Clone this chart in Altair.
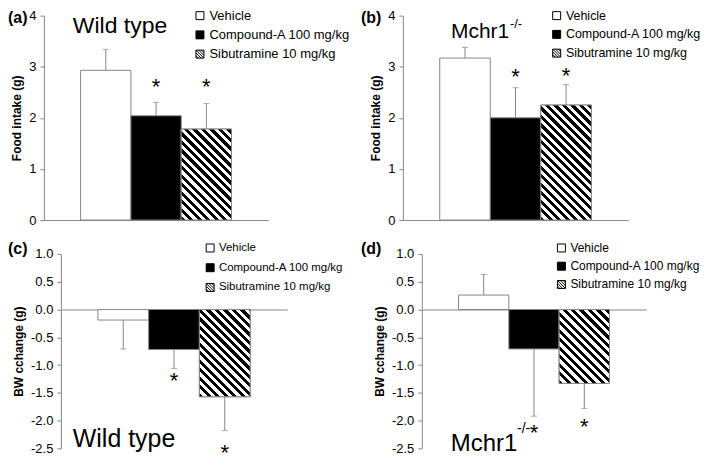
import altair as alt
import pandas as pd

# ---------------- data ----------------
groups = ["Vehicle", "Compound-A 100 mg/kg", "Sibutramine 10 mg/kg"]

food_wt = [2.93, 2.04, 1.78]
food_wt_err = [3.34, 2.30, 2.28]
food_wt_star = [None, 2.70, 2.70]

food_ko = [3.17, 2.00, 2.25]
food_ko_err = [3.38, 2.59, 2.65]
food_ko_star = [None, 2.89, 2.92]

bw_wt = [-0.19, -0.72, -1.57]
bw_wt_err = [-0.71, -1.06, -2.18]
bw_wt_star = [None, -1.20, -2.49]

bw_ko = [0.26, -0.71, -1.33]
bw_ko_err = [0.63, -1.92, -1.78]
bw_ko_star = [None, -2.13, -2.02]

food_ticks = [0, 1, 2, 3, 4]
bw_ticks = [1.0, 0.5, 0.0, -0.5, -1.0, -1.5, -2.0, -2.5]

# ---------------- styling ----------------
FONT = "Liberation Sans"
GRAY = "#868686"
PAD_OUTER = 0.73
H1, H2 = 205, 195
VIEW_W = 244

# legend swatches as custom symbol paths (unit box [-1, 1])
SQUARE = "M-1,-1L1,-1L1,1L-1,1Z"
SHAPES = [
    SQUARE,
    SQUARE,
    SQUARE + "M-1,-1L1,1M-0.3,-1L1,0.3M-1,-0.3L0.3,1M0.4,-1L1,-0.4M-1,0.4L-0.4,1",
]
SWATCH_FILL = ["white", "black", "white"]
SWATCH_STROKE = ["black", "black", "black"]
BAR_FILL = ["white", "black", "white"]


def hatch_fill(w, h, period=8.5):
    total = w + h
    stops = []
    k = 0
    while k * period < total:
        a = round(k * period / total, 5)
        b = round(min((k * period + period / 2) / total, 1), 5)
        c = round(min((k + 1) * period / total, 1), 5)
        stops += [{"offset": a, "color": "black"}, {"offset": b, "color": "black"}]
        if b < 1:
            stops += [{"offset": b, "color": "white"}, {"offset": c, "color": "white"}]
        k += 1
    kk = total / (w * w + h * h)
    return {"gradient": "linear", "x1": 0, "y1": 1,
            "x2": round(w * kk, 5), "y2": round(1 - h * kk, 5), "stops": stops}


def panel(vals, errs, stars, ydom, yticks, yfmt, ytitle, x0, x1, H,
          label, label_x, label_y, legx, legy, legfs,
          title, tsize, tdx, ty, sup=None):
    df = pd.DataFrame({"group": groups, "value": vals, "err": errs, "star": stars})
    span = ydom[1] - ydom[0]
    xs = alt.Scale(domain=groups, range=[x0, x1], paddingInner=0,
                   paddingOuter=PAD_OUTER)
    ys = alt.Scale(domain=ydom, nice=False, zero=False)
    yaxis = alt.Axis(
        values=yticks, format=yfmt, offset=-x0,
        labelExpr="replace(datum.label, '\u2212', '-')",
        labelFont=FONT, labelFontSize=13, labelColor="black", labelPadding=4,
        labelFlush=False, labelOverlap=False,
        tickSize=4, tickColor=GRAY, domainColor=GRAY, grid=False,
        title=ytitle, titleFont=FONT, titleFontSize=12, titleFontWeight="bold",
        titleColor="black", titlePadding=5,
    )
    # category axis drawn as the zero line
    xaxis = alt.Axis(
        orient="bottom", offset=-(H * (-ydom[0]) / span), domain=True,
        domainColor=GRAY, ticks=False, labels=False, title=None, grid=False,
    )
    X = alt.X("group:N", scale=xs, axis=xaxis)

    def Y(f):
        return alt.Y(f, scale=ys, axis=yaxis)

    bwidth = (x1 - x0) / (3 + 2 * PAD_OUTER)
    hpx = abs(vals[2]) * H / span

    leg = alt.Legend(
        orient="none", legendX=legx, legendY=legy, title=None,
        labelFont=FONT, labelFontSize=legfs, labelColor="black",
        labelOffset=3, rowPadding=18.3 - legfs, padding=0,
        symbolSize=64, symbolStrokeColor="black", symbolStrokeWidth=1,
        symbolOpacity=1,
    )
    legend_pts = alt.Chart(df).mark_point(
        filled=True, size=64, opacity=0, strokeWidth=1
    ).encode(
        x=X, y=Y("value:Q"),
        shape=alt.Shape("group:N", scale=alt.Scale(domain=groups, range=SHAPES),
                        legend=leg),
        fill=alt.Fill("group:N", scale=alt.Scale(domain=groups, range=SWATCH_FILL),
                      legend=leg),
        stroke=alt.Stroke("group:N",
                          scale=alt.Scale(domain=groups, range=SWATCH_STROKE),
                          legend=leg),
    )
    bars = alt.Chart(df).mark_bar(stroke=GRAY, strokeWidth=1).encode(
        x=X, y=Y("value:Q"),
        color=alt.Color("group:N",
                        scale=alt.Scale(domain=groups, range=BAR_FILL),
                        legend=None),
    )
    hatch = alt.Chart(df).transform_filter(
        alt.datum.group == groups[2]
    ).mark_bar(fill=hatch_fill(bwidth, hpx), stroke=GRAY, strokeWidth=1).encode(
        x=X, y=Y("value:Q")
    )
    err = alt.Chart(df).mark_rule(color=GRAY, strokeWidth=1).encode(
        x=X, y=Y("value:Q"), y2="err:Q"
    )
    caps = alt.Chart(df).mark_tick(color=GRAY, thickness=1, size=6).encode(
        x=X, y=Y("err:Q")
    )
    star = alt.Chart(df).transform_filter("isValid(datum.star)").mark_text(
        text="*", font=FONT, fontSize=22, baseline="middle", dy=5, color="black"
    ).encode(x=X, y=Y("star:Q"))
    lab = alt.Chart(pd.DataFrame({"t": [label]})).mark_text(
        align="left", baseline="top", font=FONT, fontSize=16, fontWeight="bold",
        color="black"
    ).encode(text="t:N", x=alt.value(label_x), y=alt.value(label_y))
    tdf = pd.DataFrame({"t": [title], "g": [groups[0]], "y": [ty]})
    ttl = alt.Chart(tdf).mark_text(
        align="left", baseline="alphabetic", font=FONT, fontSize=tsize, dx=tdx,
        color="black"
    ).encode(text="t:N", x=alt.X("g:N", scale=xs, axis=xaxis), y=Y("y:Q"))
    layers = [legend_pts, bars, hatch, err, caps, star, lab, ttl]
    if sup is not None:
        stext, ssize, sdx, sdy = sup
        sdf = pd.DataFrame({"t": [stext], "g": [groups[0]], "y": [ty]})
        layers.append(alt.Chart(sdf).mark_text(
            align="left", baseline="alphabetic", font=FONT, fontSize=ssize,
            dx=sdx, dy=sdy, color="black"
        ).encode(text="t:N", x=alt.X("g:N", scale=xs, axis=xaxis), y=Y("y:Q")))
    return alt.layer(*layers).properties(width=VIEW_W, height=H)


pa = panel(food_wt, food_wt_err, food_wt_star, [0, 4], food_ticks, "d",
           "Food intake (g)", 0, 225, H1, "(a)", -36, -6, 150, -6.5, 13,
           "Wild type", 23, -33, 3.66)
pb = panel(food_ko, food_ko_err, food_ko_star, [0, 4], food_ticks, "d",
           "Food intake (g)", 0, 226, H1, "(b)", -42, -6, 148, -6.25, 12.5,
           "Mchr1", 21, -14, 3.56, sup=("-/-", 13, 45, -10))
pc = panel(bw_wt, bw_wt_err, bw_wt_star, [-2.5, 1.0], bw_ticks, ".1f",
           "BW cchange (g)", 17, 244, H2, "(c)", -36, -13, 161, -11.75, 11.5,
           "Wild type", 25, -50.6, -2.47)
pd_ = panel(bw_ko, bw_ko_err, bw_ko_star, [-2.5, 1.0], bw_ticks, ".1f",
            "BW cchange (g)", 19, 244, H2, "(d)", -42, -13, 153, -12, 12,
            "Mchr1", 24, -33, -2.55, sup=("-/-", 14, 33.5, -18))

chart = alt.concat(
    pa, pb, pc, pd_, columns=2, spacing={"row": 34, "column": 116}, bounds="flush"
).resolve_scale(
    shape="independent", fill="independent", stroke="independent",
    color="independent"
).resolve_legend(
    shape="independent", fill="independent", stroke="independent"
).properties(padding=0).configure_view(stroke=None)

chart.save("out.html", embed_options={"renderer": "svg", "actions": False})
